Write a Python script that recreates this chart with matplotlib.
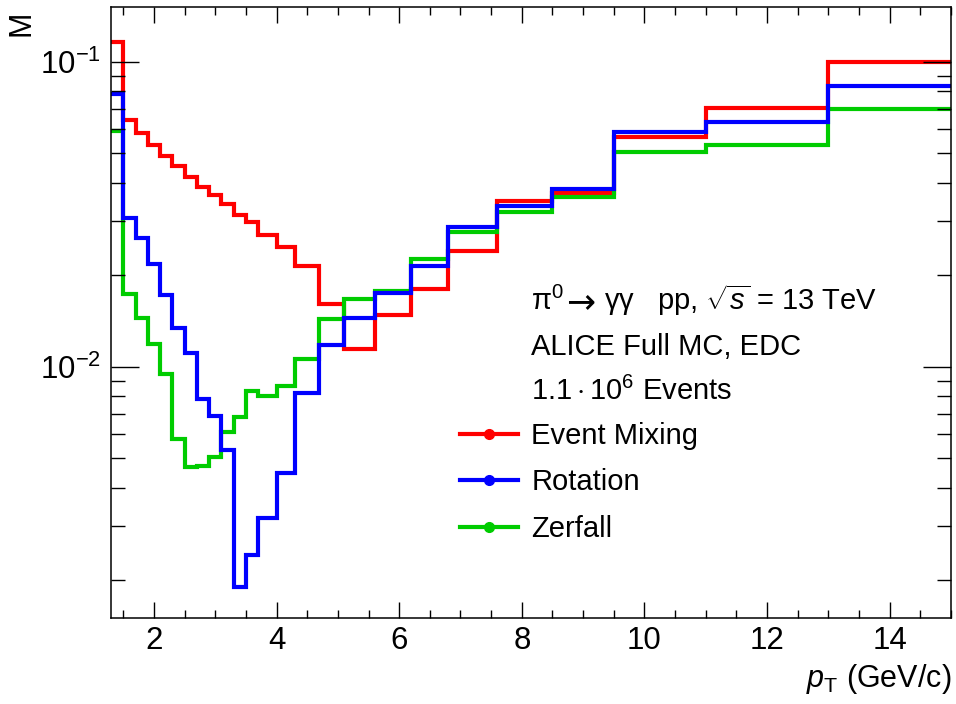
import numpy as np
import matplotlib
matplotlib.use("Agg")
from matplotlib import pyplot as plt
from matplotlib.ticker import MultipleLocator, LogLocator, NullFormatter
from matplotlib.lines import Line2D

plt.rcParams['font.family'] = ['Liberation Sans', 'DejaVu Sans']
plt.rcParams['mathtext.fontset'] = 'custom'
plt.rcParams['mathtext.rm'] = 'Liberation Sans'
plt.rcParams['mathtext.it'] = 'Liberation Sans:italic'
plt.rcParams['mathtext.bf'] = 'Liberation Sans:bold'

# pT bin edges (GeV/c)
edges = [1.3, 1.5, 1.7, 1.9, 2.1, 2.3, 2.5, 2.7, 2.9, 3.1, 3.3, 3.5, 3.7, 4.0,
         4.3, 4.7, 5.1, 5.6, 6.2, 6.8, 7.6, 8.5, 9.5, 11.0, 13.0, 15.0]

event_mixing = [0.116, 0.0644, 0.0582, 0.0531, 0.0492, 0.0453, 0.0418, 0.0387,
                0.0364, 0.0341, 0.0314, 0.0298, 0.0270, 0.0247, 0.0213, 0.0160,
                0.0114, 0.0148, 0.0180, 0.0240, 0.0350, 0.0372, 0.0565, 0.0706,
                0.0995]
rotation = [0.0783, 0.0307, 0.0265, 0.0217, 0.0172, 0.0134, 0.0111, 0.00783,
            0.00689, 0.00531, 0.00189, 0.00241, 0.00319, 0.00449, 0.00818,
            0.0118, 0.0144, 0.0174, 0.0214, 0.0286, 0.0337, 0.0383, 0.0589,
            0.0633, 0.0834]
zerfall = [0.0593, 0.0173, 0.0144, 0.0119, 0.00946, 0.00578, 0.00470, 0.00473,
           0.00505, 0.00612, 0.00686, 0.00834, 0.00802, 0.00867, 0.0106,
           0.0143, 0.0167, 0.0177, 0.0225, 0.0276, 0.0322, 0.0359, 0.0505,
           0.0531, 0.0698]

series = [('Event Mixing', event_mixing, '#ff0000'),
          ('Rotation', rotation, '#0000ff'),
          ('Zerfall', zerfall, '#00cc00')]

fig = plt.figure(figsize=(9.56, 7.04), dpi=100)
ax = fig.add_axes([0.1161, 0.1222, 0.8787, 0.8679])

# draw order: red, green, blue on top
for idx in [0, 2, 1]:
    name, vals, col = series[idx]
    ax.stairs(vals, edges, baseline=None, color=col, lw=3.0)

ax.set_yscale('log')
ax.set_xlim(1.3, 15)
ax.set_ylim(1.5e-3, 0.151)

ax.xaxis.set_major_locator(MultipleLocator(2))
ax.xaxis.set_minor_locator(MultipleLocator(0.5))
ax.yaxis.set_major_locator(LogLocator(base=10))
ax.yaxis.set_minor_locator(LogLocator(base=10, subs=np.arange(2, 10)))
ax.yaxis.set_minor_formatter(NullFormatter())

ax.tick_params(which='both', direction='in', top=True, right=True, width=1.0)
ax.tick_params(axis='x', which='major', length=11.5, labelsize=22.5, pad=6)
ax.tick_params(axis='x', which='minor', length=6)
ax.tick_params(axis='y', which='major', length=20, labelsize=22.5, pad=7)
ax.tick_params(axis='y', which='minor', length=10)
for s in ax.spines.values():
    s.set_linewidth(1.1)

ax.set_xlabel(r'$p_{\mathrm{T}}$ (GeV/c)', fontsize=22, loc='right', labelpad=4)
fig.text(0.022, 0.985, 'M', rotation=90, fontsize=22, ha='center', va='top')

fs = 21
def px(x, y):
    return x / 956, 1 - y / 704

# first line in three pieces so the arrow gets the longer ROOT-like shape
fig.text(*px(531, 310), r'$\mathrm{\pi}^{0}$', fontsize=fs, va='baseline')
fig.text(*px(566, 312), '\u2192', fontsize=25, va='baseline', family='DejaVu Sans')
fig.text(*px(604, 310), r'$\mathrm{\gamma\gamma}$   pp, $\sqrt{s}$ = 13 TeV',
         fontsize=fs, va='baseline')
fig.text(*px(531, 355), 'ALICE Full MC, EDC', fontsize=fs, va='baseline')
fig.text(*px(531, 400), r'$1.1\cdot10^{6}$ Events', fontsize=fs, va='baseline')

handles = [Line2D([], [], color=c, lw=3, marker='o', markersize=7) for _, _, c in series]
labels = [n for n, _, _ in series]
ax.legend(handles, labels, loc='upper left', bbox_to_anchor=px(460, 422),
          bbox_transform=fig.transFigure, frameon=False, fontsize=fs,
          handlelength=2.0, handletextpad=0.45, labelspacing=0.63,
          borderpad=0, borderaxespad=0)

plt.savefig('out.png', dpi=100)
